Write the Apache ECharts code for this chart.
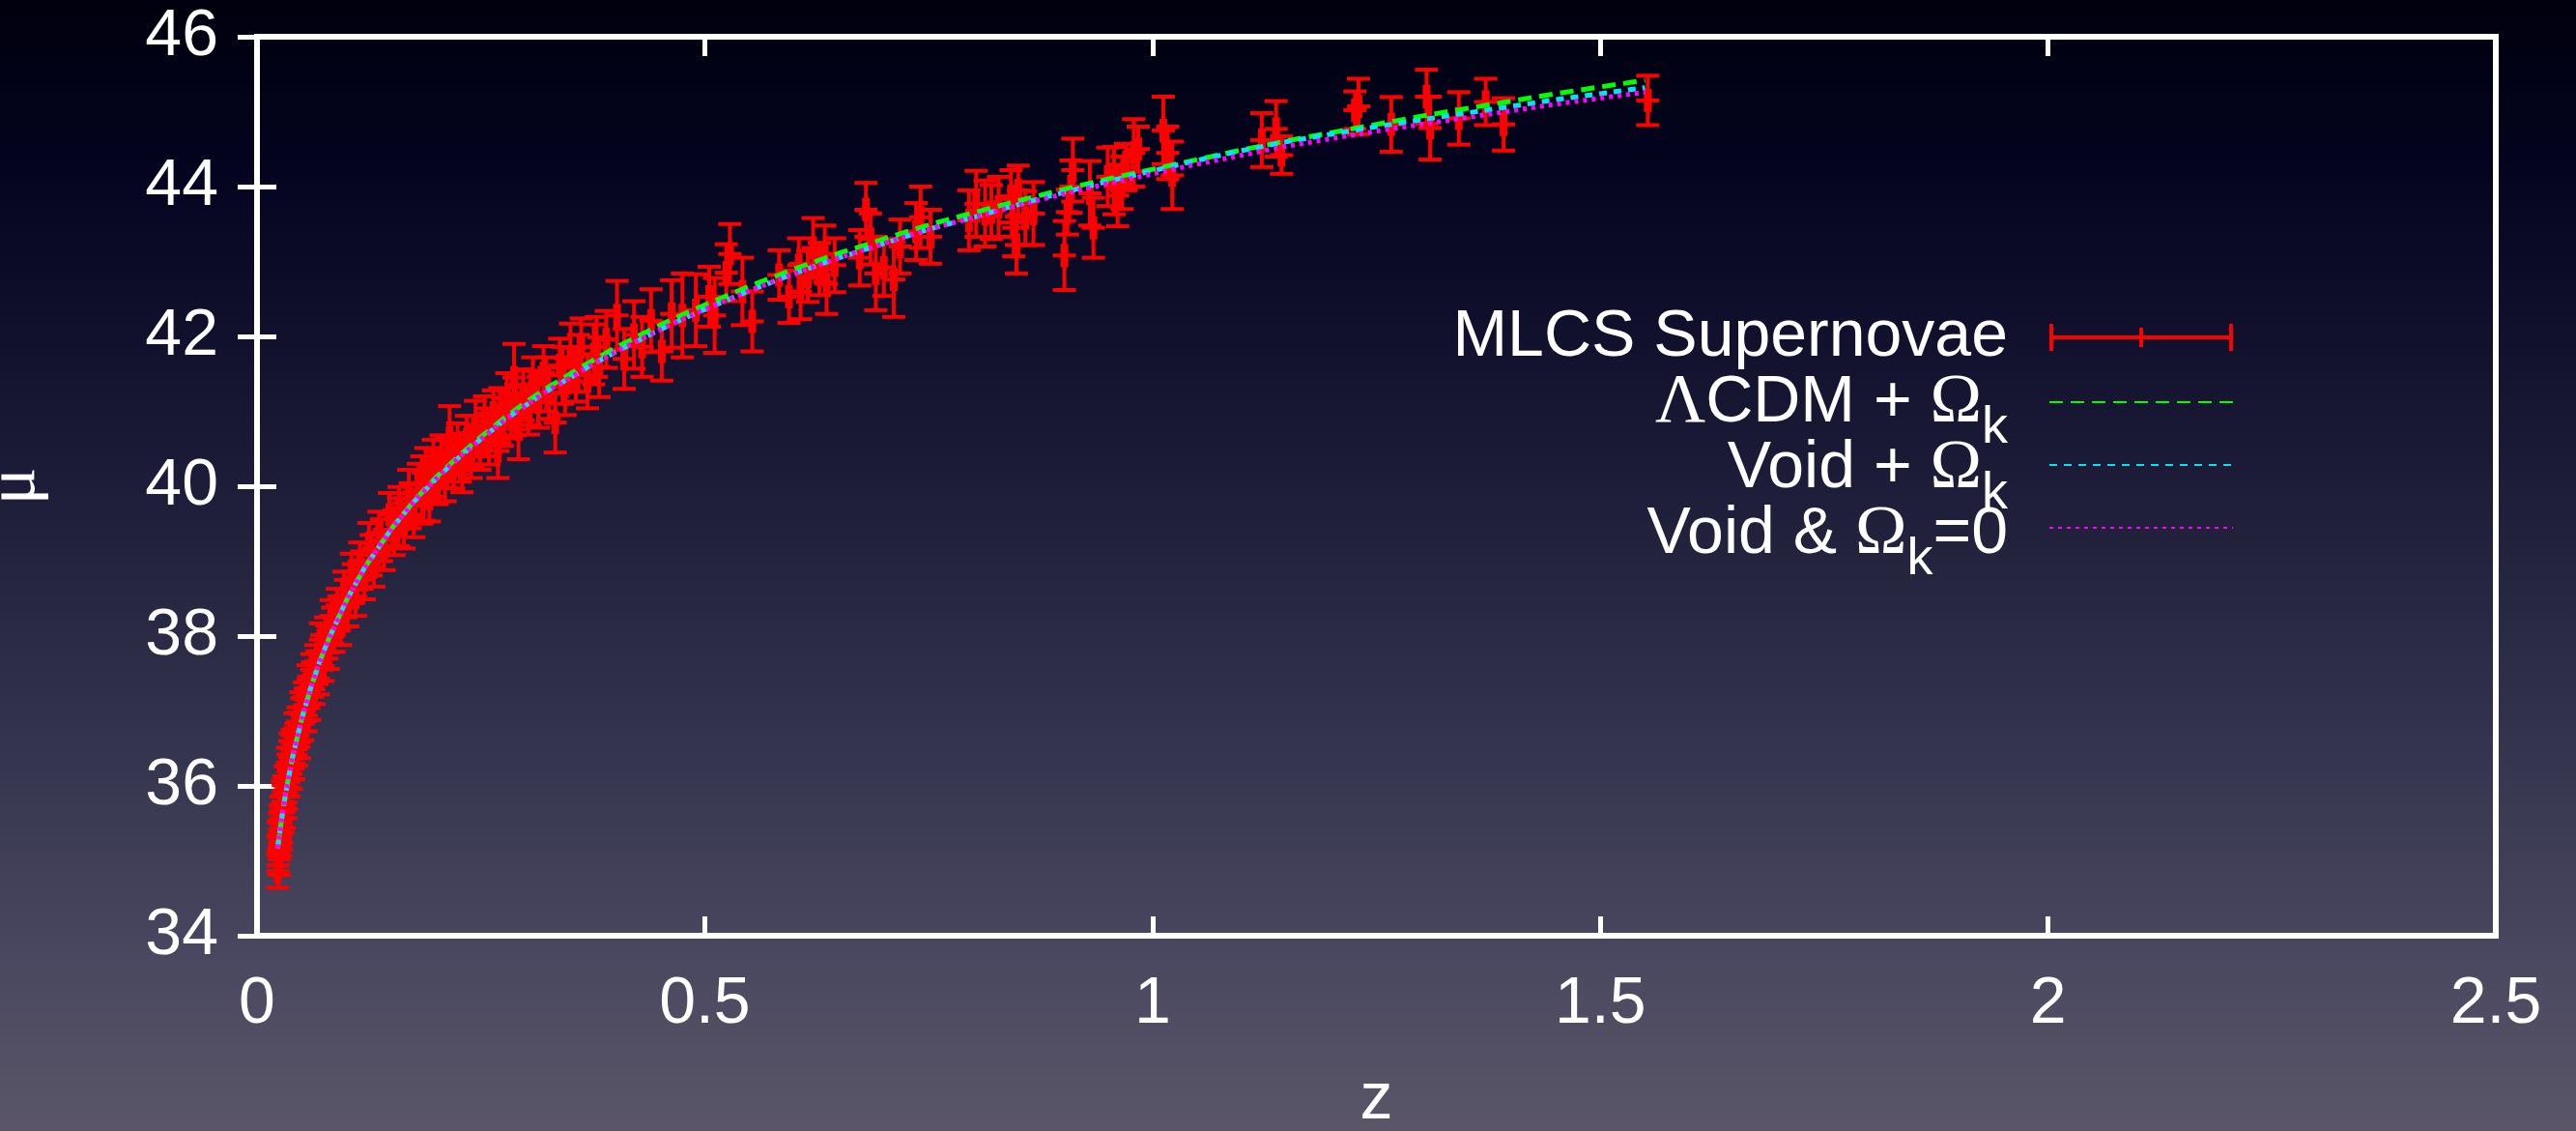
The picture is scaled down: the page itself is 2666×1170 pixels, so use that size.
<!DOCTYPE html>
<html>
<head>
<meta charset="utf-8">
<title>Distance modulus vs redshift</title>
<script src="https://cdn.jsdelivr.net/npm/echarts@6/dist/echarts.min.js"></script>
<style>
  html, body { margin: 0; padding: 0; background: #000; }
  #chart { width: 2666px; height: 1170px; }
</style>
</head>
<body>
<div id="chart"></div>
<script>
// MLCS supernova sample: redshift, distance modulus and 1-sigma error
const zVals = [
  0.0232, 0.0235, 0.0237, 0.0243, 0.0249, 0.0252, 0.0255, 0.0261, 0.0268, 0.0271,
  0.0274, 0.0282, 0.0289, 0.0293, 0.0298, 0.0306, 0.0316, 0.0321, 0.0328, 0.0341,
  0.0347, 0.0353, 0.0366, 0.0372, 0.0380, 0.0394, 0.0401, 0.0409, 0.0425, 0.0433,
  0.0441, 0.0457, 0.0466, 0.0474, 0.0492, 0.0500, 0.0510, 0.0529, 0.0538, 0.0548,
  0.0568, 0.0578, 0.0589, 0.0611, 0.0622, 0.0634, 0.0658, 0.0670, 0.0683, 0.0709,
  0.0722, 0.0737, 0.0766, 0.0780, 0.0796, 0.0828, 0.0845, 0.0861, 0.0896, 0.0915,
  0.0933, 0.0971, 0.0990, 0.1012, 0.1055, 0.1075, 0.1100, 0.1148, 0.1170, 0.1198,
  0.1250, 0.1275, 0.1305, 0.1362, 0.1390, 0.1420, 0.1478,
  0.1530, 0.1580, 0.1585, 0.1640, 0.1695, 0.1710, 0.1750, 0.1800, 0.1840, 0.1860,
  0.1885, 0.1925, 0.1970, 0.1990, 0.2010, 0.2055, 0.2100, 0.2120, 0.2150, 0.2195,
  0.2240, 0.2270, 0.2290, 0.2340, 0.2390, 0.2410, 0.2440, 0.2490, 0.2540, 0.2560,
  0.2590, 0.2640, 0.2690, 0.2710, 0.2740, 0.2790, 0.2840, 0.2870, 0.2890, 0.2920,
  0.2970, 0.3030, 0.3050, 0.3080, 0.3140, 0.3200, 0.3230, 0.3260, 0.3330, 0.3380,
  0.3410, 0.3440, 0.3500, 0.3560, 0.3590, 0.3620, 0.3690, 0.3760, 0.3790, 0.3820,
  0.3900, 0.4020, 0.4100, 0.4210, 0.4300, 0.4400, 0.4520, 0.4630, 0.4750, 0.4900,
  0.5050, 0.5110, 0.5240, 0.5280, 0.5420, 0.5530,
  0.583, 0.594, 0.605, 0.607, 0.615, 0.621, 0.628, 0.634, 0.636, 0.645,
  0.673, 0.680, 0.685, 0.691, 0.700, 0.711, 0.718, 0.736, 0.741, 0.752,
  0.795, 0.803, 0.813, 0.820, 0.828, 0.842, 0.845, 0.848, 0.850, 0.858,
  0.867, 0.9015, 0.905, 0.909, 0.911, 0.930, 0.934, 0.950, 0.957, 0.961,
  0.966, 0.970, 0.979, 0.984, 1.012, 1.017, 1.022, 1.122, 1.138, 1.144,
  1.226, 1.230, 1.2665, 1.306, 1.310, 1.342, 1.372, 1.392, 1.553
];
const muVals = [
  34.86, 35.32, 35.14, 35.33, 35.02, 35.41, 35.55, 35.29, 35.68, 35.35,
  35.44, 35.86, 35.57, 35.79, 35.93, 35.66, 36.08, 35.78, 35.90, 36.31,
  36.20, 36.05, 36.38, 36.50, 36.16, 36.57, 36.45, 36.30, 36.77, 36.62,
  36.49, 36.86, 36.75, 36.58, 37.05, 36.95, 36.83, 37.19, 37.08, 36.94,
  37.41, 37.25, 37.10, 37.55, 37.42, 37.29, 37.66, 37.58, 37.43, 37.95,
  37.78, 37.60, 38.02, 37.92, 37.78, 38.27, 38.14, 38.02, 38.41, 38.30,
  38.12, 38.63, 38.50, 38.38, 38.86, 38.70, 38.53, 39.00, 38.88, 38.75,
  39.24, 39.08, 38.92, 39.38, 39.28, 39.15, 39.62,
  39.38, 39.52, 39.71, 39.47, 39.90, 39.74, 39.62, 40.02, 39.95, 39.86,
  40.21, 39.83, 40.30, 40.16, 40.04, 40.38, 40.12, 40.32, 40.65, 40.27,
  40.50, 40.38, 40.22, 40.62, 40.41, 40.60, 40.80, 40.52, 40.88, 40.72,
  40.63, 40.98, 40.47, 40.95, 40.86, 41.17, 40.94, 41.45, 41.02, 40.76,
  41.22, 41.01, 41.18, 41.36, 41.12, 41.51, 41.36, 41.24, 40.85, 41.61,
  41.48, 41.33, 41.72, 41.49, 41.64, 41.86, 41.40, 41.76, 41.86, 41.59,
  41.96, 42.28, 41.70, 42.02, 41.86, 42.21, 41.80, 42.30, 42.28, 42.35,
  42.53, 42.28, 42.85, 43.10, 42.60, 42.20,
  42.82, 42.53, 42.95, 42.60, 42.80, 43.18, 42.90, 43.10, 42.70, 42.95,
  43.05, 43.69, 43.30, 42.84, 42.92, 42.76, 43.20, 43.40, 43.59, 43.33,
  43.55, 43.77, 43.64, 43.66, 43.73, 43.87, 43.45, 43.22, 43.95, 43.58,
  43.64, 43.08, 43.66, 44.00, 44.22, 43.91, 43.45, 44.13, 44.08, 43.88,
  44.05, 44.26, 44.45, 44.50, 44.75, 44.45, 44.15, 44.62, 44.77, 44.42,
  45.02, 45.07, 44.83, 45.20, 44.78, 44.91, 45.13, 44.83, 45.15
];
const errVals = [
  0.22, 0.20, 0.20, 0.18, 0.21, 0.22, 0.19, 0.22, 0.18, 0.20,
  0.20, 0.21, 0.19, 0.22, 0.20, 0.22, 0.18, 0.21, 0.21, 0.20,
  0.22, 0.19, 0.22, 0.20, 0.20, 0.18, 0.22, 0.21, 0.20, 0.21,
  0.22, 0.19, 0.23, 0.21, 0.20, 0.22, 0.22, 0.19, 0.22, 0.21,
  0.20, 0.21, 0.22, 0.21, 0.23, 0.20, 0.22, 0.22, 0.21, 0.22,
  0.23, 0.20, 0.23, 0.22, 0.22, 0.21, 0.24, 0.23, 0.22, 0.23,
  0.24, 0.23, 0.25, 0.25, 0.24, 0.26, 0.26, 0.25, 0.25, 0.26,
  0.27, 0.27, 0.26, 0.28, 0.28, 0.27, 0.29,
  0.30, 0.32, 0.28, 0.30, 0.32, 0.30, 0.30, 0.28, 0.45, 0.32,
  0.30, 0.30, 0.32, 0.30, 0.28, 0.30, 0.32, 0.34, 0.42, 0.30,
  0.34, 0.32, 0.30, 0.32, 0.30, 0.34, 0.34, 0.30, 0.32, 0.32,
  0.34, 0.30, 0.36, 0.36, 0.32, 0.34, 0.30, 0.45, 0.34, 0.40,
  0.34, 0.32, 0.36, 0.36, 0.34, 0.36, 0.36, 0.34, 0.40, 0.36,
  0.38, 0.38, 0.45, 0.36, 0.38, 0.38, 0.36, 0.40, 0.40, 0.40,
  0.38, 0.46, 0.40, 0.45, 0.40, 0.42, 0.39, 0.45, 0.56, 0.48,
  0.40, 0.50, 0.38, 0.40, 0.45, 0.40,
  0.33, 0.35, 0.36, 0.37, 0.34, 0.40, 0.35, 0.38, 0.40, 0.36,
  0.37, 0.36, 0.34, 0.49, 0.38, 0.50, 0.36, 0.38, 0.41, 0.36,
  0.40, 0.44, 0.44, 0.36, 0.40, 0.35, 0.38, 0.38, 0.33, 0.36,
  0.42, 0.46, 0.30, 0.35, 0.42, 0.43, 0.40, 0.39, 0.45, 0.41,
  0.35, 0.31, 0.45, 0.30, 0.45, 0.35, 0.45, 0.36, 0.37, 0.25,
  0.25, 0.37, 0.365, 0.36, 0.42, 0.35, 0.31, 0.35, 0.33
];

// Model curves: distance modulus tabulated against redshift
const curveZ = [
  0.023, 0.027, 0.03, 0.035, 0.04, 0.05, 0.06, 0.07, 0.08, 0.1,
  0.12, 0.15, 0.175, 0.2, 0.225, 0.25, 0.275, 0.3, 0.325, 0.35,
  0.375, 0.4, 0.425, 0.45, 0.475, 0.5, 0.55, 0.6, 0.65, 0.7,
  0.75, 0.8, 0.85, 0.9, 0.95, 1.0, 1.05, 1.1, 1.15, 1.2,
  1.25, 1.3, 1.35, 1.4, 1.45, 1.5, 1.55
];
const lcdmMu = [
  35.17, 35.52, 35.76, 36.10, 36.40, 36.90, 37.31, 37.66, 37.96, 38.48,
  38.91, 39.43, 39.80, 40.12, 40.40, 40.66, 40.90, 41.12, 41.32, 41.50,
  41.68, 41.85, 42.00, 42.15, 42.29, 42.42, 42.67, 42.90, 43.11, 43.30,
  43.49, 43.65, 43.81, 43.96, 44.10, 44.23, 44.36, 44.49, 44.61, 44.72,
  44.83, 44.94, 45.04, 45.14, 45.24, 45.33, 45.42
];
const voidCurvedMu = [
  35.17, 35.52, 35.76, 36.10, 36.40, 36.90, 37.31, 37.66, 37.96, 38.48,
  38.91, 39.43, 39.79, 40.10, 40.38, 40.63, 40.87, 41.08, 41.28, 41.45,
  41.63, 41.79, 41.94, 42.09, 42.23, 42.36, 42.61, 42.84, 43.05, 43.24,
  43.43, 43.59, 43.76, 43.92, 44.07, 44.21, 44.35, 44.48, 44.60, 44.70,
  44.80, 44.89, 44.98, 45.07, 45.16, 45.24, 45.32
];
const voidFlatMu = [
  35.17, 35.52, 35.76, 36.10, 36.40, 36.90, 37.31, 37.66, 37.96, 38.48,
  38.91, 39.43, 39.79, 40.10, 40.38, 40.63, 40.87, 41.08, 41.28, 41.45,
  41.63, 41.79, 41.94, 42.09, 42.23, 42.36, 42.61, 42.84, 43.05, 43.24,
  43.43, 43.59, 43.75, 43.90, 44.04, 44.17, 44.30, 44.42, 44.54, 44.64,
  44.74, 44.83, 44.92, 45.01, 45.10, 45.18, 45.26
];

const xTickLabels = ['0', '0.5', '1', '1.5', '2', '2.5'];
const yTickLabels = ['34', '36', '38', '40', '42', '44', '46'];

const seriesNames = ['MLCS Supernovae', 'ΛCDM + Ωk', 'Void + Ωk', 'Void & Ωk=0'];
// key text for each entry: body (rich), subscript, trailing text
const keyLabels = [
  { body: '{t|MLCS Supernovae}', sub: '', tail: '' },
  { body: '{g|Λ}{t|CDM + }{g|Ω}', sub: 'k', tail: '' },
  { body: '{t|Void + }{g|Ω}', sub: 'k', tail: '' },
  { body: '{t|Void & }{g|Ω}', sub: 'k', tail: '=0' }
];

const WHITE = '#ffffff';
const SANS = 'Liberation Sans, Arial, Helvetica, sans-serif';
const SERIF = 'Liberation Serif, DejaVu Serif, serif';
const MAIN_SIZE = 68;
const SUB_SIZE = 54;

const chart = echarts.init(document.getElementById('chart'), null, { renderer: 'canvas' });

const supernovae = zVals.map((z, i) => [z, muVals[i], errVals[i]]);
const toLine = arr => curveZ.map((z, i) => [z, arr[i]]);

// vertical error bar with end caps and a '+' marker at the measured value
function renderErrorBar(params, api) {
  const z = api.value(0);
  const mu = api.value(1);
  const e = api.value(2);
  const top = api.coord([z, mu + e]);
  const bot = api.coord([z, mu - e]);
  const mid = api.coord([z, mu]);
  const cap = 12;
  const thin = { stroke: '#ff0000', lineWidth: 4 };
  const bold = { stroke: '#ff0000', lineWidth: 8 };
  return {
    type: 'group',
    children: [
      { type: 'line', shape: { x1: top[0], y1: top[1], x2: bot[0], y2: bot[1] }, style: thin },
      { type: 'line', shape: { x1: top[0] - cap, y1: top[1], x2: top[0] + cap, y2: top[1] }, style: thin },
      { type: 'line', shape: { x1: bot[0] - cap, y1: bot[1], x2: bot[0] + cap, y2: bot[1] }, style: thin },
      { type: 'line', shape: { x1: mid[0] - cap, y1: mid[1], x2: mid[0] + cap, y2: mid[1] }, style: thin },
      { type: 'line', shape: { x1: mid[0], y1: mid[1] - cap, x2: mid[0], y2: mid[1] + cap }, style: bold }
    ]
  };
}

// key labels, right-justified against the key samples, with lowered subscripts
const measureCtx = document.createElement('canvas').getContext('2d');
function textWidth(str, size, family) {
  measureCtx.font = size + 'px ' + family;
  return measureCtx.measureText(str).width;
}
const KEY_RIGHT = 2078;
const KEY_TOP = 349;
const KEY_STEP = 68;
const SUB_DROP = 26;
const richStyles = {
  t: { fill: WHITE, fontFamily: SANS, fontSize: MAIN_SIZE },
  g: { fill: WHITE, fontFamily: SERIF, fontSize: 72 }
};
const keyGraphics = [];
keyLabels.forEach((k, i) => {
  const y = KEY_TOP + i * KEY_STEP;
  let right = KEY_RIGHT;
  if (k.tail) {
    keyGraphics.push({
      type: 'text', x: right, y: y, silent: true,
      style: { text: k.tail, fill: WHITE, fontFamily: SANS, fontSize: MAIN_SIZE, align: 'right', verticalAlign: 'middle' }
    });
    right -= textWidth(k.tail, MAIN_SIZE, SANS);
  }
  if (k.sub) {
    keyGraphics.push({
      type: 'text', x: right, y: y + SUB_DROP, silent: true,
      style: { text: k.sub, fill: WHITE, fontFamily: SANS, fontSize: SUB_SIZE, align: 'right', verticalAlign: 'middle' }
    });
    right -= textWidth(k.sub, SUB_SIZE, SANS);
  }
  keyGraphics.push({
    type: 'text', x: right, y: y, silent: true,
    style: { text: k.body, rich: richStyles, fill: WHITE, fontFamily: SANS, fontSize: MAIN_SIZE, align: 'right', verticalAlign: 'middle' }
  });
});

const axisLineOff = { show: false };
const tickStyle = { inside: true, length: 20, lineStyle: { color: WHITE, width: 5 } };

const option = {
  backgroundColor: {
    type: 'linear', x: 0, y: 0, x2: 0, y2: 1,
    colorStops: [
      { offset: 0.00, color: '#00000e' },
      { offset: 0.15, color: '#040420' },
      { offset: 0.40, color: '#1a1a36' },
      { offset: 0.65, color: '#34334d' },
      { offset: 0.85, color: '#4a4860' },
      { offset: 1.00, color: '#5a5668' }
    ]
  },
  animation: false,
  grid: {
    left: 266, right: 83, top: 38, bottom: 202,
    containLabel: false, outerBoundsMode: 'none',
    show: true, borderColor: WHITE, borderWidth: 6, backgroundColor: 'transparent'
  },
  xAxis: [
    {
      type: 'value', min: 0, max: 2.5, interval: 0.5, position: 'bottom',
      axisLine: axisLineOff, axisTick: tickStyle, splitLine: { show: false },
      axisLabel: {
        color: WHITE, fontFamily: SANS, fontSize: 68, margin: 37,
        formatter: v => xTickLabels[Math.round(v / 0.5)]
      },
      name: 'z', nameLocation: 'middle', nameGap: 136,
      nameTextStyle: { color: WHITE, fontFamily: SANS, fontSize: 68 }
    },
    {
      type: 'value', min: 0, max: 2.5, interval: 0.5, position: 'top',
      axisLine: axisLineOff, axisTick: tickStyle, splitLine: { show: false },
      axisLabel: { show: false }
    }
  ],
  yAxis: [
    {
      type: 'value', min: 34, max: 46, interval: 2, position: 'left',
      axisLine: axisLineOff, axisTick: tickStyle, splitLine: { show: false },
      axisLabel: {
        color: WHITE, fontFamily: SANS, fontSize: 68, margin: 40,
        padding: [10, 0, 0, 0],
        formatter: v => yTickLabels[Math.round((v - 34) / 2)]
      },
      name: 'μ', nameLocation: 'middle', nameRotate: 90, nameGap: 214,
      nameTextStyle: { color: WHITE, fontFamily: SERIF, fontSize: 72 }
    },
    {
      type: 'value', min: 34, max: 46, interval: 2, position: 'right',
      axisLine: axisLineOff, axisTick: tickStyle, splitLine: { show: false },
      axisLabel: { show: false }
    }
  ],
  legend: {
    orient: 'vertical', align: 'right', right: 354, top: KEY_TOP - 15,
    padding: 0, itemGap: KEY_STEP - 30, itemWidth: 190, itemHeight: 30,
    selectedMode: false,
    data: [
      { name: seriesNames[0], icon: 'path://M0,13h190v4h-190z M0,1h4v28h-4z M186,1h4v28h-4z M93,5h4v20h-4z' },
      { name: seriesNames[1], itemStyle: { opacity: 0 } },
      { name: seriesNames[2], itemStyle: { opacity: 0 } },
      { name: seriesNames[3], itemStyle: { opacity: 0 } }
    ],
    formatter: () => '',
    textStyle: { fontSize: 8, color: WHITE }
  },
  graphic: keyGraphics,
  series: [
    {
      name: seriesNames[0], type: 'custom', renderItem: renderErrorBar,
      data: supernovae, encode: { x: 0, y: 1 },
      itemStyle: { color: '#ff0000' }, z: 2, silent: true
    },
    {
      name: seriesNames[1], type: 'line', data: toLine(lcdmMu),
      symbol: 'none', smooth: false, z: 3, silent: true,
      color: '#00ff00', lineStyle: { color: '#00ff00', width: 5, type: [14, 8] }
    },
    {
      name: seriesNames[2], type: 'line', data: toLine(voidCurvedMu),
      symbol: 'none', smooth: false, z: 4, silent: true,
      color: '#00e6f0', lineStyle: { color: '#00e6f0', width: 5, type: [8, 7] }
    },
    {
      name: seriesNames[3], type: 'line', data: toLine(voidFlatMu),
      symbol: 'none', smooth: false, z: 5, silent: true,
      color: '#ff00ff', lineStyle: { color: '#ff00ff', width: 5, type: [4, 5] }
    }
  ]
};

chart.setOption(option);
</script>
</body>
</html>
